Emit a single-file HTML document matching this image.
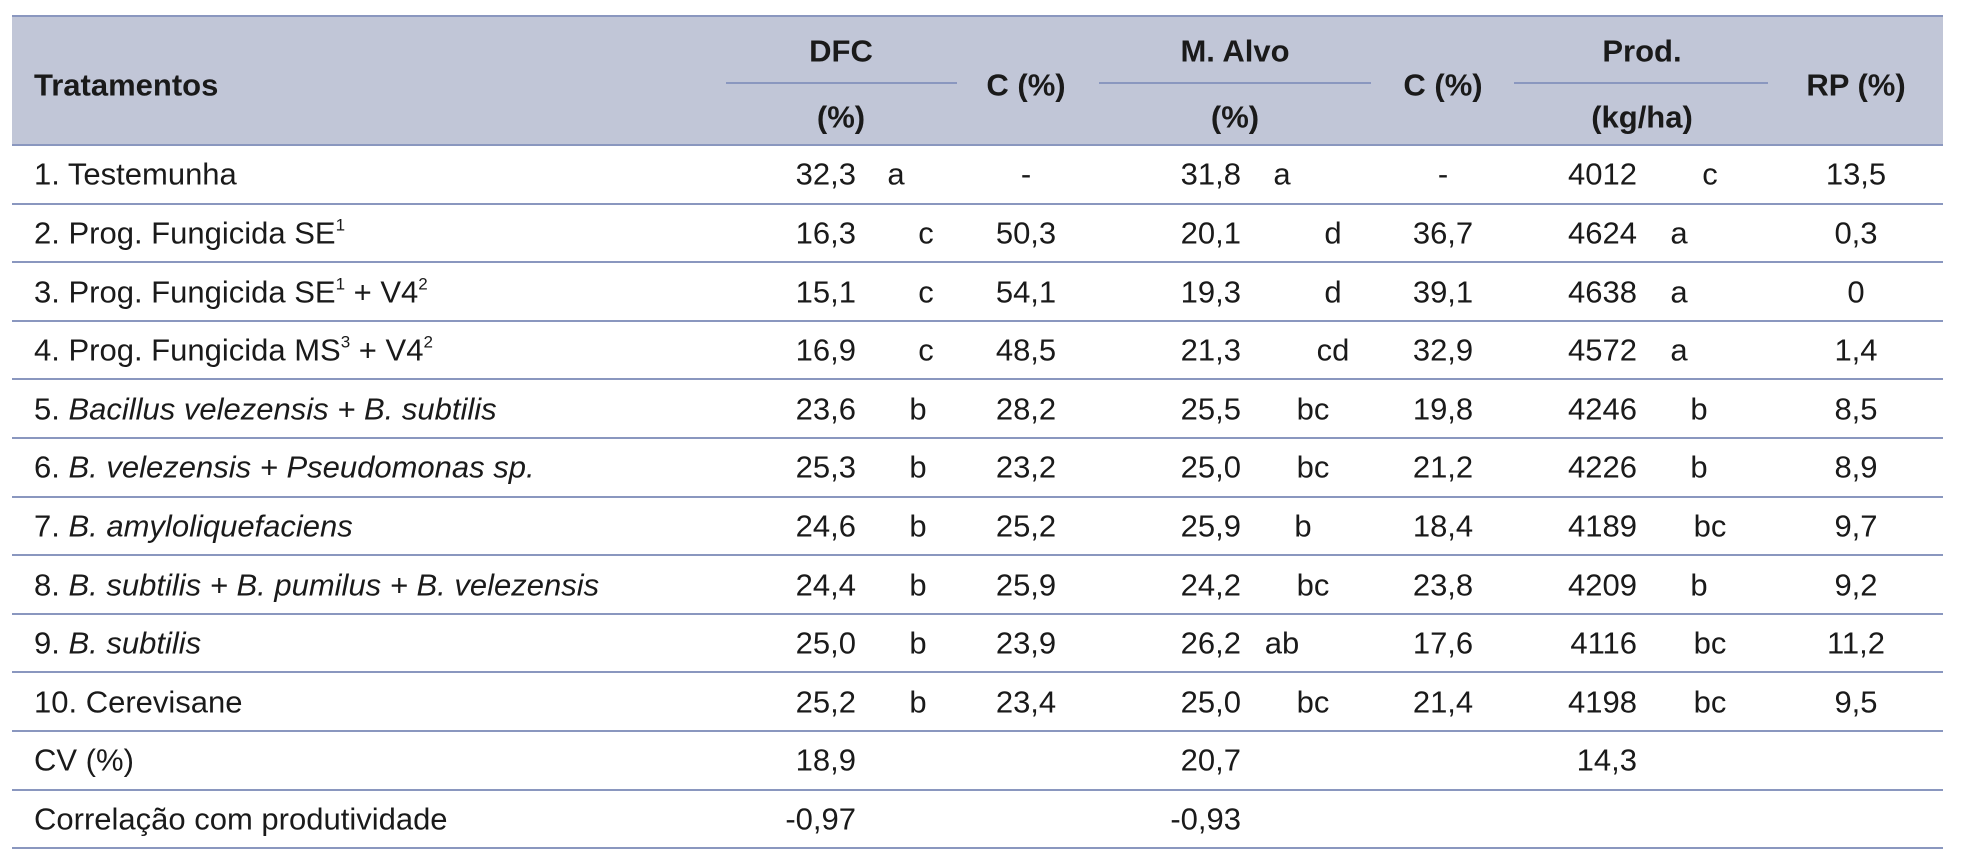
<!DOCTYPE html>
<html><head><meta charset="utf-8"><style>
html,body{margin:0;padding:0;background:#fff;}
#t{position:relative;width:1962px;height:858px;overflow:hidden;font-family:"Liberation Sans",Arial,sans-serif;font-size:31px;color:#1a1a1a;}
.c{position:absolute;white-space:nowrap;line-height:1;transform:translateY(-50%);}
.hl{position:absolute;height:2px;background:#8a97bf;}
.h{font-weight:bold;}
sup{font-size:0.55em;vertical-align:0;position:relative;top:-0.75em;}
</style></head><body>
<div id="t">
<div style="position:absolute;left:12px;top:16px;width:1931px;height:129px;background:#c1c6d7;"></div>
<div class="hl" style="left:12px;top:15px;width:1931px;"></div>
<div class="hl" style="left:12px;top:144px;width:1931px;"></div>
<div class="hl" style="left:726px;top:82px;width:231px;"></div>
<div class="hl" style="left:1099px;top:82px;width:272px;"></div>
<div class="hl" style="left:1514px;top:82px;width:254px;"></div>
<div class="c h" style="left:34px;top:85px;">Tratamentos</div>
<div class="c h" style="left:841px;top:51px;transform:translate(-50%,-50%);">DFC</div>
<div class="c h" style="left:841px;top:117px;transform:translate(-50%,-50%);">(%)</div>
<div class="c h" style="left:1026px;top:85px;transform:translate(-50%,-50%);">C (%)</div>
<div class="c h" style="left:1235px;top:51px;transform:translate(-50%,-50%);">M. Alvo</div>
<div class="c h" style="left:1235px;top:117px;transform:translate(-50%,-50%);">(%)</div>
<div class="c h" style="left:1443px;top:85px;transform:translate(-50%,-50%);">C (%)</div>
<div class="c h" style="left:1642px;top:51px;transform:translate(-50%,-50%);">Prod.</div>
<div class="c h" style="left:1642px;top:117px;transform:translate(-50%,-50%);">(kg/ha)</div>
<div class="c h" style="left:1856px;top:85px;transform:translate(-50%,-50%);">RP (%)</div>
</div>
<script>
const names=["1. Testemunha","2. Prog. Fungicida SE<sup>1</sup>","3. Prog. Fungicida SE<sup>1</sup> + V4<sup>2</sup>","4. Prog. Fungicida MS<sup>3</sup> + V4<sup>2</sup>","5. <i>Bacillus velezensis + B. subtilis</i>","6. <i>B. velezensis + Pseudomonas sp.</i>","7. <i>B. amyloliquefaciens</i>","8. <i>B. subtilis + B. pumilus + B. velezensis</i>","9. <i>B. subtilis</i>","10. Cerevisane","CV (%)","Correlação com produtividade"];
const dfc=["32,3","16,3","15,1","16,9","23,6","25,3","24,6","24,4","25,0","25,2","18,9","-0,97"];
const dfcL=["a","c","c","c","b","b","b","b","b","b","",""];
const c1=["-","50,3","54,1","48,5","28,2","23,2","25,2","25,9","23,9","23,4","",""];
const alvo=["31,8","20,1","19,3","21,3","25,5","25,0","25,9","24,2","26,2","25,0","20,7","-0,93"];
const alvoL=["a","d","d","cd","bc","bc","b","bc","ab","bc","",""];
const c2=["-","36,7","39,1","32,9","19,8","21,2","18,4","23,8","17,6","21,4","",""];
const prod=["4012","4624","4638","4572","4246","4226","4189","4209","4116","4198","14,3",""];
const prodL=["c","a","a","a","b","b","bc","b","bc","bc","",""];
const rp=["13,5","0,3","0","1,4","8,5","8,9","9,7","9,2","11,2","9,5","",""];
const T=document.getElementById('t');
const y0=145,pitch=58.6;
const rowY=i=>y0+pitch*(i+0.5);
const dfcPos={a:896,b:918,c:926};
const alvoPos={a:1282,ab:1282,b:1303,bc:1313,d:1333,cd:1333};
const prodPos={a:1679,b:1699,c:1710,bc:1710};
function cell(txt,x,y,align,name){
  const d=document.createElement('div');
  d.className='c';
  
  
  d.innerHTML=txt;
  if(align==='r'){d.style.right=(1962-x)+'px';}
  else if(align==='m'){d.style.left=x+'px';d.style.transform='translate(-50%,-50%)';}
  else d.style.left=x+'px';
  d.style.top=y+'px';
  T.appendChild(d);
}
names.forEach((n,i)=>{
  const y=rowY(i);
  cell(n,34,y,'l','treatment-name');
  if(dfc[i])cell(dfc[i],856,y,'r','dfc-value');
  if(dfcL[i])cell(dfcL[i],dfcPos[dfcL[i]],y,'m','dfc-letter');
  if(c1[i])cell(c1[i],1026,y,'m','dfc-control');
  if(alvo[i])cell(alvo[i],1241,y,'r','alvo-value');
  if(alvoL[i])cell(alvoL[i],alvoPos[alvoL[i]],y,'m','alvo-letter');
  if(c2[i])cell(c2[i],1443,y,'m','alvo-control');
  if(prod[i])cell(prod[i],1637,y,'r','prod-value');
  if(prodL[i])cell(prodL[i],prodPos[prodL[i]],y,'m','prod-letter');
  if(rp[i])cell(rp[i],1856,y,'m','rp-value');
  const l=document.createElement('div');
  l.className='hl';
  
  
  l.style.left='12px';l.style.width='1931px';
  l.style.top=(y0+pitch*(i+1)-1)+'px';
  T.appendChild(l);
});
</script>
</body></html>
